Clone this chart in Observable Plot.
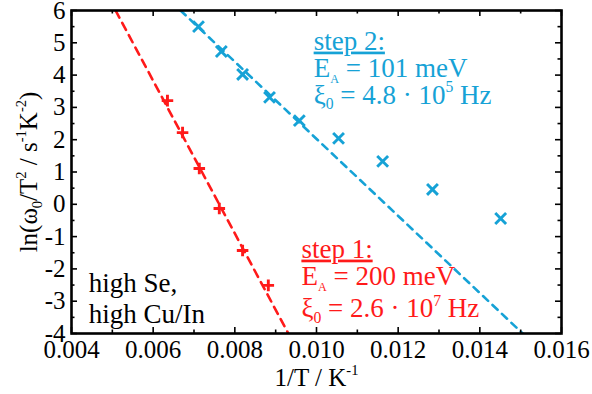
<!DOCTYPE html>
<html><head><meta charset="utf-8">
<script src="https://cdn.jsdelivr.net/npm/d3@7"></script>
<script src="https://cdn.jsdelivr.net/npm/@observablehq/plot@0.6"></script>
<style>
  html,body{margin:0;padding:0;background:#fff}
  #chart svg{display:block}
</style>
</head><body><div id="chart"></div>
<script>
// ---- data ----
const step1X = [0.00635, 0.00672, 0.00713, 0.00762, 0.00819, 0.00882];
const step1Y = [3.21, 2.22, 1.11, -0.13, -1.43, -2.51];
const step2X = [0.00711, 0.00767, 0.00819, 0.00885, 0.00958, 0.01054, 0.01162, 0.01284, 0.01451];
const step2Y = [5.50, 4.73, 4.02, 3.31, 2.59, 2.04, 1.33, 0.46, -0.44];
const fit1X = [0.00508, 0.00931], fit1Y = [6, -4];
const fit2X = [0.00667, 0.01505], fit2Y = [6, -4];

const xMajor = [0.004, 0.006, 0.008, 0.010, 0.012, 0.014, 0.016];
const xTickLabels = ["0.004", "0.006", "0.008", "0.010", "0.012", "0.014", "0.016"];
const xMinor = [0.005, 0.007, 0.009, 0.011, 0.013, 0.015];
const yMajor = [-4, -3, -2, -1, 0, 1, 2, 3, 4, 5, 6];
const yTickLabels = ["-4", "-3", "-2", "-1", "0", "1", "2", "3", "4", "5", "6"];
const yMinor = [-3.5, -2.5, -1.5, -0.5, 0.5, 1.5, 2.5, 3.5, 4.5, 5.5];

const xTitle = "1/T / K^{-1}";
const yTitle = "ln(ω_{0}/T^{2} / s^{-1}K^{-2})";
const step1Head = "step 1:";
const step1Lines = ["E_{A} = 200 meV", "ξ_{0} = 2.6 · 10^{7} Hz"];
const step1LabelX = [0.00963, 0.00963, 0.00963], step1LabelY = [-1.65, -2.51, -3.50];
const step2Head = "step 2:";
const step2Lines = ["E_{A} = 101 meV", "ξ_{0} = 4.8 · 10^{5} Hz"];
const step2LabelX = [0.00993, 0.00993, 0.00993], step2LabelY = [4.79, 3.93, 3.12];
const sampleLines = ["high Se,", "high Cu/In"];
const sampleLabelX = [0.00442, 0.00442], sampleLabelY = [-2.73, -3.66];

// ---- build tables ----
const pts = (xs, ys) => xs.map((x, i) => ({x, y: ys[i]}));
const labs = (xs, ys, ts) => ts.map((t, i) => ({x: xs[i], y: ys[i], t}));
const step1 = pts(step1X, step1Y), step2 = pts(step2X, step2Y);
const fit1 = pts(fit1X, fit1Y), fit2 = pts(fit2X, fit2Y);
const head1 = labs(step1LabelX, step1LabelY, [step1Head]);
const body1 = labs(step1LabelX.slice(1), step1LabelY.slice(1), step1Lines);
const head2 = labs(step2LabelX, step2LabelY, [step2Head]);
const body2 = labs(step2LabelX.slice(1), step2LabelY.slice(1), step2Lines);
const labS = labs(sampleLabelX, sampleLabelY, sampleLines);

const RED = "#ff1a1a", BLUE = "#16a2d6";
const W = 592, H = 394, mL = 71, mR = 31, mT = 10, mB = 61;
const fW = W - mL - mR, fH = H - mT - mB;
const majorLen = 6, minorLen = 3.5;
const annFont = 27;
const annText = (data, fill, cls) =>
  Plot.text(data, {x: "x", y: "y", text: "t", textAnchor: "start", lineAnchor: "bottom", fontSize: annFont, fill, className: cls});

const plot = Plot.plot({
  width: W, height: H,
  marginLeft: mL, marginRight: mR, marginTop: mT, marginBottom: mB,
  style: {fontFamily: "'Liberation Serif', 'Times New Roman', serif", background: "#fff", color: "#000"},
  x: {domain: [0.004, 0.016]},
  y: {domain: [-4, 6]},
  marks: [
    Plot.line(fit1, {x: "x", y: "y", stroke: RED, strokeWidth: 2.6, strokeDasharray: "8,6", clip: true}),
    Plot.line(fit2, {x: "x", y: "y", stroke: BLUE, strokeWidth: 2.6, strokeDasharray: "7,6", clip: true}),
    Plot.dot(step1, {x: "x", y: "y", symbol: "plus", r: 3.8, stroke: RED, strokeWidth: 2.9}),
    Plot.dot(step2, {x: "x", y: "y", symbol: "times", r: 5, stroke: BLUE, strokeWidth: 2.9}),
    // inward ticks
    Plot.tickX(xMajor, {x: d => d, insetTop: fH - majorLen, stroke: "#000", strokeWidth: 1.6}),
    Plot.tickX(xMinor, {x: d => d, insetTop: fH - minorLen, stroke: "#000", strokeWidth: 1.6}),
    Plot.tickX(xMajor, {x: d => d, insetBottom: fH - majorLen, stroke: "#000", strokeWidth: 1.6}),
    Plot.tickX(xMinor, {x: d => d, insetBottom: fH - minorLen, stroke: "#000", strokeWidth: 1.6}),
    Plot.tickY(yMajor, {y: d => d, insetRight: fW - majorLen, stroke: "#000", strokeWidth: 1.6}),
    Plot.tickY(yMinor, {y: d => d, insetRight: fW - minorLen, stroke: "#000", strokeWidth: 1.6}),
    Plot.tickY(yMajor, {y: d => d, insetLeft: fW - majorLen, stroke: "#000", strokeWidth: 1.6}),
    Plot.tickY(yMinor, {y: d => d, insetLeft: fW - minorLen, stroke: "#000", strokeWidth: 1.6}),
    Plot.frame({stroke: "#000", strokeWidth: 2.6}),
    Plot.axisX(xMajor, {label: null, tickSize: 0, tickPadding: 7, fontSize: 25, tickFormat: d => xTickLabels[xMajor.indexOf(d)]}),
    Plot.axisY(yMajor, {label: null, tickSize: 0, tickPadding: 6, fontSize: 25, tickFormat: d => yTickLabels[yMajor.indexOf(d)]}),
    Plot.text([xTitle], {frameAnchor: "bottom", dy: 52, textAnchor: "middle", lineAnchor: "bottom", fontSize: 25, text: d => d, fill: "#000"}),
    Plot.text([yTitle], {frameAnchor: "left", dx: -43, rotate: -90, textAnchor: "middle", lineAnchor: "middle", fontSize: 25, text: d => d, fill: "#000"}),
    annText(head1, RED, "head"),
    annText(body1, RED),
    annText(head2, BLUE, "head"),
    annText(body2, BLUE),
    annText(labS, "#000")
  ]
});
document.getElementById("chart").appendChild(plot);

// underline the "step" headings
const heads = new Set([step1Head, step2Head]);
d3.select(plot).selectAll("text").filter(function() { return heads.has(this.textContent); })
  .style("text-decoration", "underline").attr("text-decoration", "underline");

// ---- rich text: _{sub} and ^{sup} ----
function rich(el) {
  const s = el.textContent;
  if (!/[_^]\{/.test(s)) return;
  const fs = parseFloat(getComputedStyle(el).fontSize) || 24;
  const sel = d3.select(el);
  sel.text(null);
  const re = /([_^])\{([^}]*)\}|([^_^]+)/g;
  let m, cur = 0;
  while ((m = re.exec(s))) {
    const t = sel.append("tspan");
    let target = 0;
    if (m[1]) {
      target = m[1] === "_" ? 0.22 * fs : -0.42 * fs;
      t.attr("font-size", (m[2] === "A" ? 0.45 : 0.58) * fs).text(m[2]);
    } else {
      t.text(m[3]);
    }
    const d = target - cur;
    if (d !== 0) t.attr("dy", d);
    cur = target;
  }
}
d3.select(plot).selectAll("text").each(function() { rich(this); });
</script>
</body></html>
